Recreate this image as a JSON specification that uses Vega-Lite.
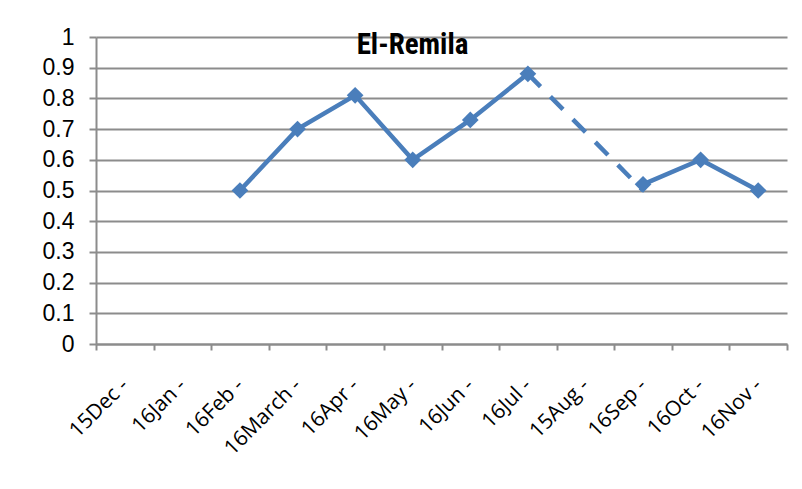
{
  "$schema": "https://vega.github.io/schema/vega-lite/v6.json",
  "autosize": {"type": "none"},
  "padding": {"left": 96, "top": 37, "right": 15, "bottom": 108},
  "width": 691,
  "height": 307,
  "background": "white",
  "title": {
    "text": "El-Remila",
    "font": "Liberation Sans Narrow, Roboto Condensed, Open Sans",
    "fontSize": 29,
    "fontWeight": "bold",
    "color": "#000000",
    "anchor": "middle",
    "dx": -29,
    "offset": -34
  },
  "data": {
    "values": [
      {"month": "15Dec -", "value": null, "jul_sep": null},
      {"month": "16Jan -", "value": null, "jul_sep": null},
      {"month": "16Feb -", "value": 0.5, "jul_sep": null},
      {"month": "16March -", "value": 0.7, "jul_sep": null},
      {"month": "16Apr -", "value": 0.81, "jul_sep": null},
      {"month": "16May -", "value": 0.6, "jul_sep": null},
      {"month": "16Jun -", "value": 0.73, "jul_sep": null},
      {"month": "16Jul -", "value": 0.88, "jul_sep": 0.88},
      {"month": "15Aug -", "value": null, "jul_sep": null},
      {"month": "16Sep -", "value": 0.52, "jul_sep": 0.5},
      {"month": "16Oct -", "value": 0.6, "jul_sep": null},
      {"month": "16Nov -", "value": 0.5, "jul_sep": null}
    ]
  },
  "encoding": {
    "x": {
      "field": "month",
      "type": "nominal",
      "sort": ["15Dec -", "16Jan -", "16Feb -", "16March -", "16Apr -", "16May -", "16Jun -", "16Jul -", "15Aug -", "16Sep -", "16Oct -", "16Nov -"],
      "scale": {"paddingInner": 0, "paddingOuter": 0},
      "axis": {
        "title": null,
        "labelAngle": -45,
        "labelAlign": "right",
        "labelBaseline": "middle",
        "labelFont": "Open Sans",
        "labelFontSize": 21,
        "labelColor": "#000000",
        "labelPadding": 32,
        "labelOverlap": false,
        "labelBound": false,
        "tickBand": "extent",
        "tickColor": "#8c8c8c",
        "tickWidth": 2,
        "tickSize": 6,
        "domainColor": "#8c8c8c",
        "domainWidth": 2,
        "grid": false
      }
    },
    "y": {
      "field": "value",
      "type": "quantitative",
      "scale": {"domain": [0, 1], "nice": false, "zero": true},
      "axis": {
        "title": null,
        "values": [0, 0.1, 0.2, 0.3, 0.4, 0.5, 0.6, 0.7, 0.8, 0.9, 1],
        "format": "~g",
        "labelFont": "Liberation Sans",
        "labelFontSize": 23,
        "labelColor": "#000000",
        "labelPadding": 15,
        "labelOverlap": false,
        "tickColor": "#8c8c8c",
        "tickWidth": 2,
        "tickSize": 7,
        "domainColor": "#8c8c8c",
        "domainWidth": 2,
        "grid": true,
        "gridColor": "#8c8c8c",
        "gridWidth": 2
      }
    }
  },
  "layer": [
    {
      "transform": [{"filter": "datum.jul_sep != null"}],
      "mark": {"type": "line", "color": "#4a7ebb", "strokeWidth": 4.5, "strokeDash": [18, 14]},
      "encoding": {
        "y": {"field": "jul_sep", "type": "quantitative"}
      }
    },
    {
      "mark": {"type": "line", "color": "#4a7ebb", "strokeWidth": 4.5}
    },
    {
      "mark": {"type": "point", "shape": "diamond", "filled": true, "color": "#4a7ebb", "size": 280, "opacity": 1}
    }
  ],
  "config": {"view": {"stroke": null}}
}
